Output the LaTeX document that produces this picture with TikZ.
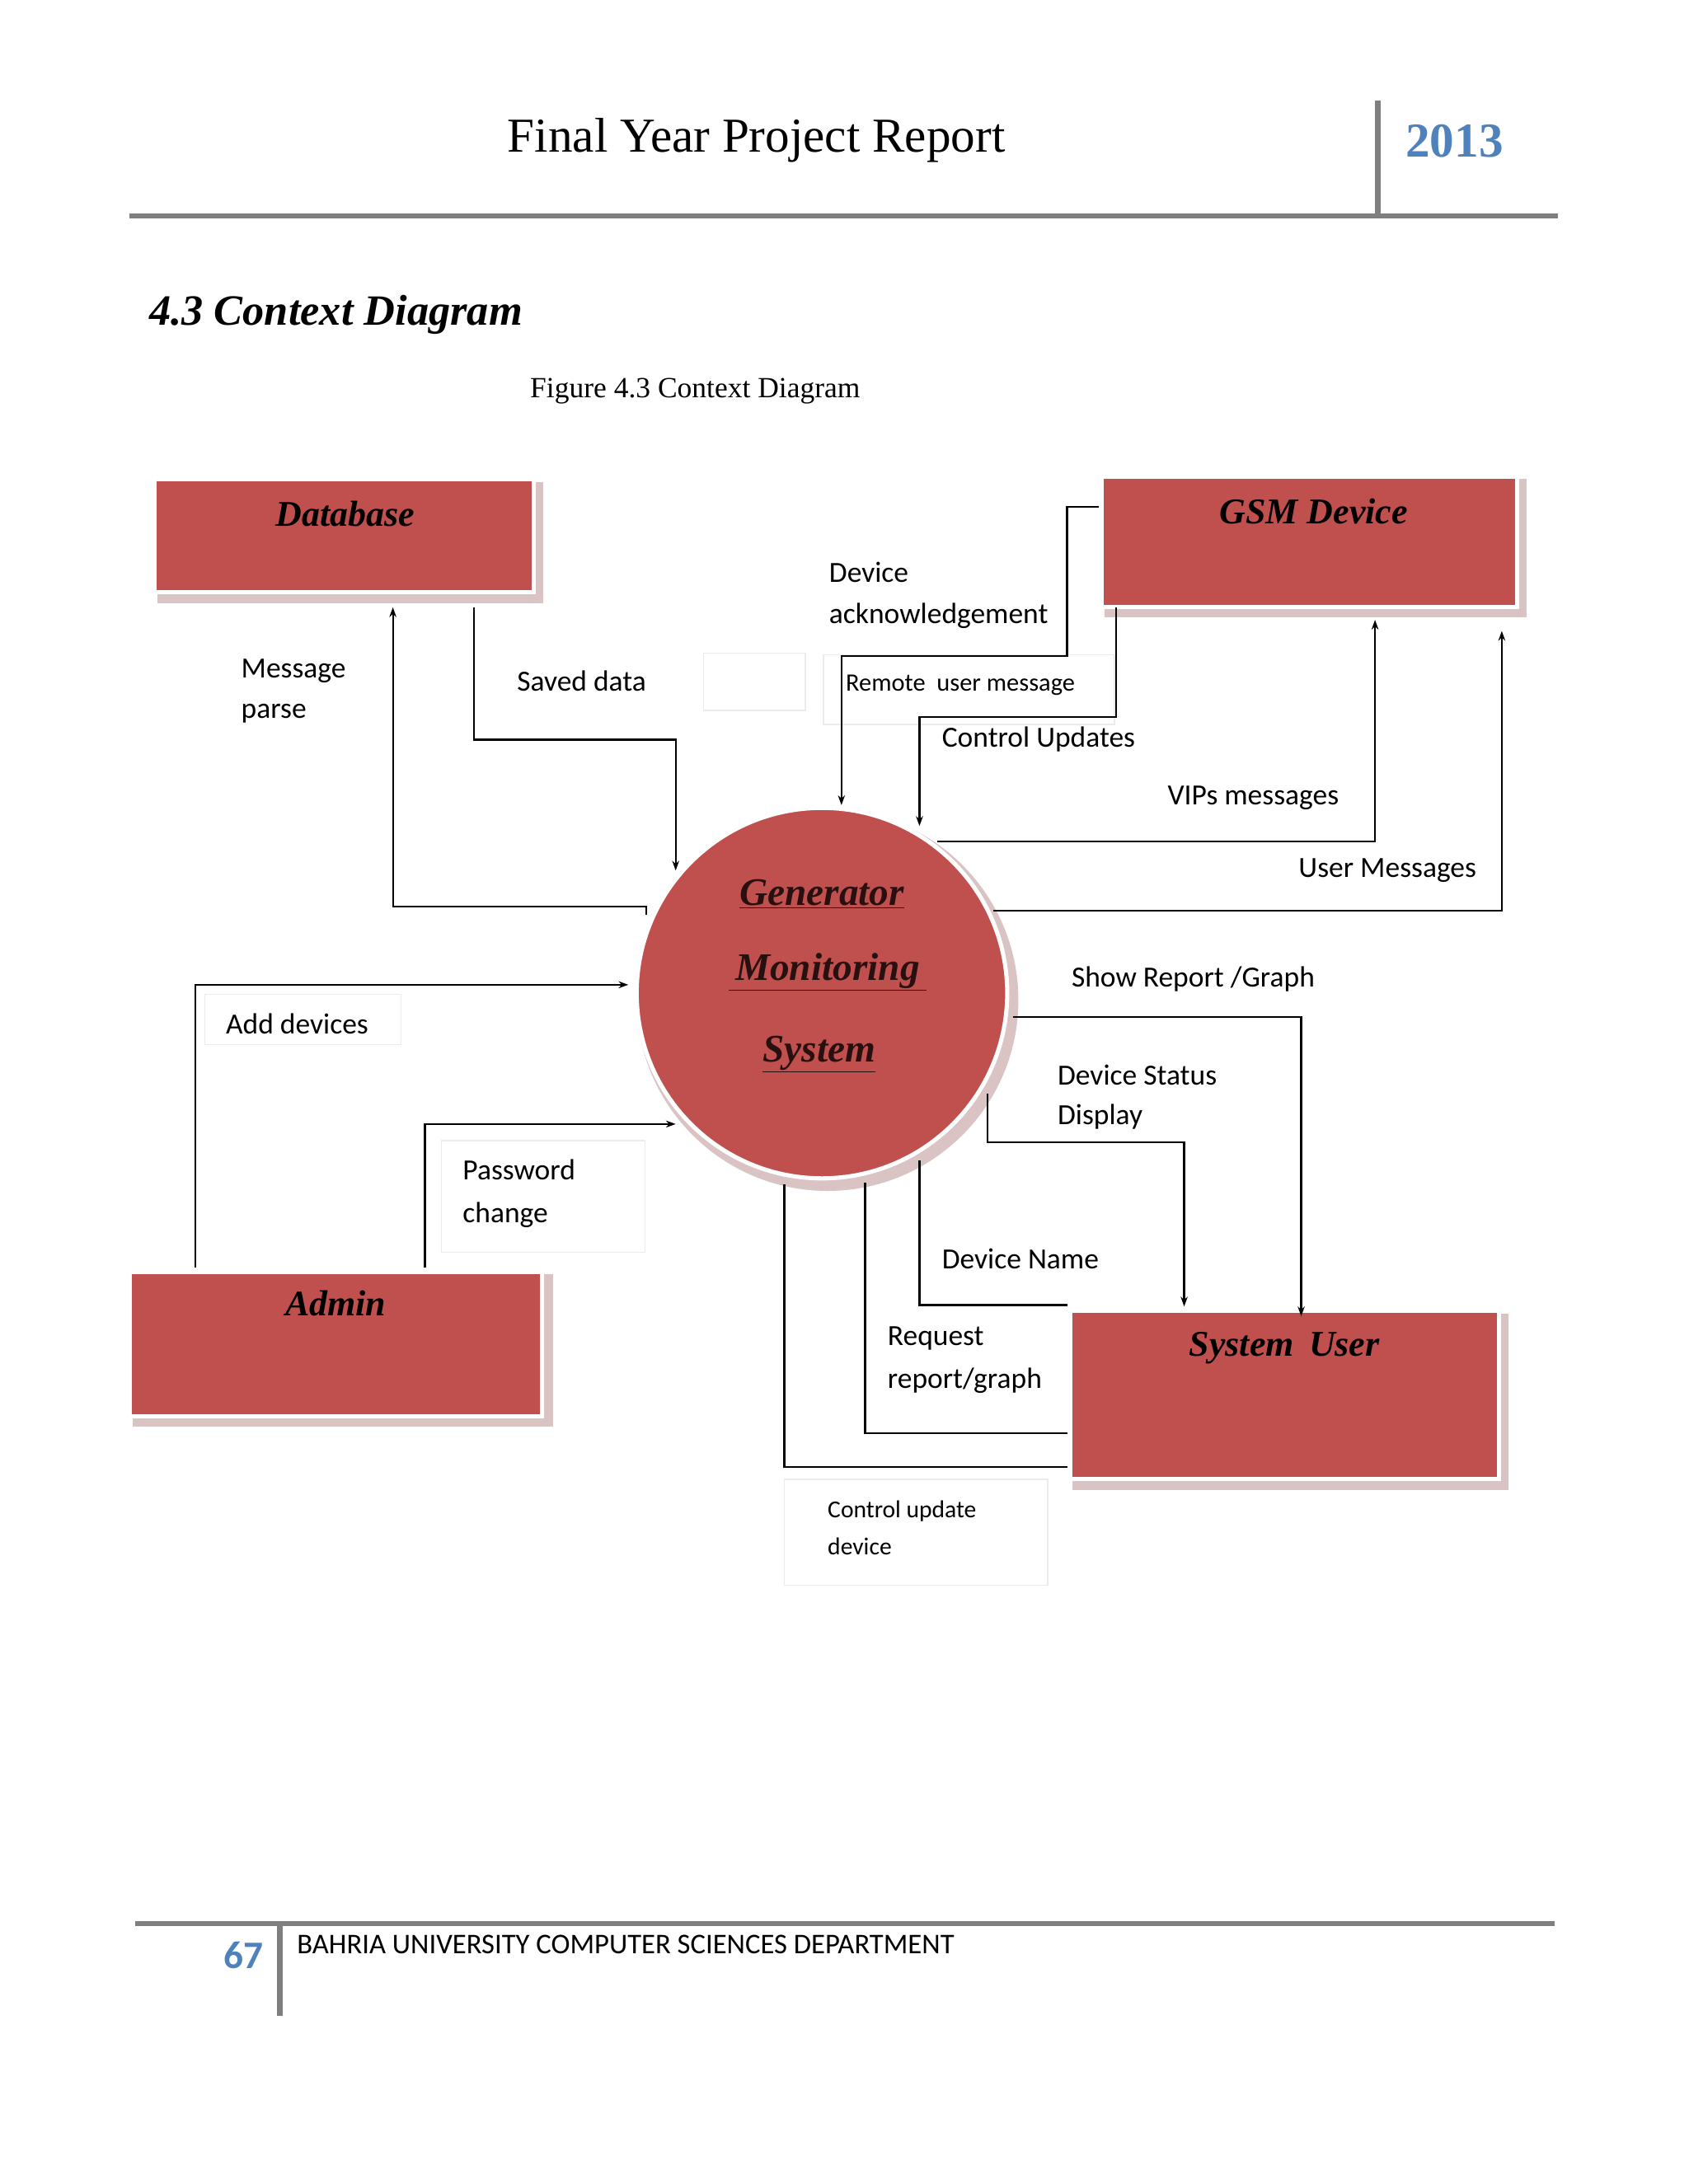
\documentclass[tikz,border=0pt]{standalone}
\usepackage{fontspec}
\setmainfont{Liberation Serif}
\newfontfamily\carl{Carlito}
\usetikzlibrary{arrows.meta}
\definecolor{boxred}{HTML}{C0504D}
\definecolor{hdrblue}{HTML}{4F81BD}
\definecolor{rulegray}{HTML}{7F7F7F}
\definecolor{shad}{HTML}{D9C3C3}
\tikzset{
 ent/.style={fill=boxred,draw=white,line width=3pt},
 entshadow/.style={fill=shad,draw=none},
 entlabel/.style={font=\fontsize{26}{30}\selectfont\bfseries\itshape},
 flow/.style={line width=1.3pt,draw=black},
 arr/.style={flow,-{Stealth[length=7pt,width=5pt]}},
 lab/.style={anchor=west,font=\carl\fontsize{21}{24}\selectfont,inner sep=0pt},
 faint/.style={draw=black!8,line width=0.8pt},
 circtxt/.style={font=\fontsize{28}{32}\selectfont\bfseries\itshape,text=black!80!boxred}
}
\begin{document}
\begin{tikzpicture}[x=1pt,y=-1pt]
\useasboundingbox (0,0) rectangle (1212,1568);
% header
\node[font=\fontsize{35}{40}\selectfont] (title) at (543,101) {Final Year Project Report};
\node[font=\fontsize{35}{40}\selectfont\bfseries,text=hdrblue] (year) at (1044,101) {2013};
\draw[rulegray,line width=4pt] (93,155) -- (1118,155);
\draw[rulegray,line width=4pt] (989,72) -- (989,155);
\node[anchor=west,font=\fontsize{31}{34}\selectfont\bfseries\itshape,inner sep=0pt] (sec) at (107,226) {4.3 Context Diagram};
\node[font=\fontsize{21}{24}\selectfont] (fig) at (499,281) {Figure 4.3 Context Diagram};
% faint label boxes
\draw[faint] (505,469) rectangle (578,510);
\draw[faint] (591,470) rectangle (800,520);
\draw[faint] (147,714) rectangle (288,750);
\draw[faint] (317,819) rectangle (463,899);
\draw[faint] (563,1062) rectangle (752,1138);
% entities
\fill[entshadow] (113,346) rectangle (390,433);
\fill[entshadow] (793,344) rectangle (1096,443);
\fill[entshadow] (95,915) rectangle (397,1024);
\fill[entshadow] (770,943) rectangle (1083,1070);
\draw[ent] (111,344) rectangle (383,425); \node[entlabel] (db) at (248,369) {Database};
\draw[ent] (791,342) rectangle (1089,436); \node[entlabel] (gsm) at (943,367) {GSM Device};
\draw[ent] (93,913) rectangle (389,1017); \node[entlabel] (adm) at (241,936) {Admin};
\draw[ent] (768,941) rectangle (1076,1062); \node[entlabel] (su) at (922,968) {System\, User};
% process
\fill[shad] (594,718) circle (137);
\draw[fill=boxred,draw=white,line width=3pt] (590,713) circle (133);
\node[circtxt] (g1) at (590,642) {\underline{Generator}};
\node[circtxt] (g2) at (594,698) {\underline{\,Monitoring\,}};
\node[circtxt] (g3) at (588,757) {\underline{System}};
% flows
\draw[arr] (464,657) -- (464,651) -- (282,651) -- (282,436);
\draw[arr] (340,436) -- (340,531) -- (485,531) -- (485,625);
\draw[arr] (789,364) -- (766,364) -- (766,471) -- (604,471) -- (604,578);
\draw[arr] (801,436) -- (801,515) -- (660,515) -- (660,593);
\draw[arr] (673,604) -- (987,604) -- (987,445);
\draw[arr] (713,654) -- (1078,654) -- (1078,453);
\draw[arr] (727,730) -- (934,730) -- (934,945);
\draw[arr] (709,785) -- (709,820) -- (850,820) -- (850,938);
\draw[flow] (660,833) -- (660,937) -- (766,937);
\draw[flow] (766,1029) -- (621,1029) -- (621,849);
\draw[flow] (766,1053) -- (563,1053) -- (563,850);
\draw[arr] (140,910) -- (140,707) -- (451,707);
\draw[arr] (305,910) -- (305,807) -- (485,807);
% labels
\node[lab] (l1) at (173,482) {Message};
\node[lab] (l1b) at (173,512) {parse};
\node[lab] (l2) at (371,489) {Saved data};
\node[lab] (l3) at (595,411) {Device};
\node[lab] (l3b) at (595,442) {acknowledgement};
\node[lab,font=\carl\fontsize{18}{20}\selectfont] (l4) at (607,492) {Remote\ \ user message};
\node[lab] (l5) at (676,531) {Control Updates};
\node[lab] (l6) at (838,573) {VIPs messages};
\node[lab] (l7) at (932,625) {User Messages};
\node[lab] (l8) at (769,703) {Show Report /Graph};
\node[lab] (l9) at (759,772) {Device Status};
\node[lab] (l9b) at (759,802) {Display};
\node[lab] (l10) at (676,904) {Device Name};
\node[lab] (l11) at (637,961) {Request};
\node[lab] (l11b) at (637,991) {report/graph};
\node[lab,font=\carl\fontsize{17.5}{20}\selectfont] (l12) at (594,1085) {Control update};
\node[lab,font=\carl\fontsize{17.5}{20}\selectfont] (l12b) at (594,1110) {device};
\node[lab] (l13) at (162,735) {Add devices};
\node[lab] (l14) at (332,840) {Password};
\node[lab] (l14b) at (332,872) {change};
% footer
\draw[rulegray,line width=4pt] (97,1381) -- (1116,1381);
\draw[rulegray,line width=4pt] (201,1381) -- (201,1447);
\node[font=\carl\fontsize{28}{32}\selectfont\bfseries,text=hdrblue] (pg) at (175,1404) {67};
\node[lab,font=\carl\fontsize{20.5}{22}\selectfont] (ft) at (213,1396) {BAHRIA UNIVERSITY COMPUTER SCIENCES DEPARTMENT};
\end{tikzpicture}
\end{document}
